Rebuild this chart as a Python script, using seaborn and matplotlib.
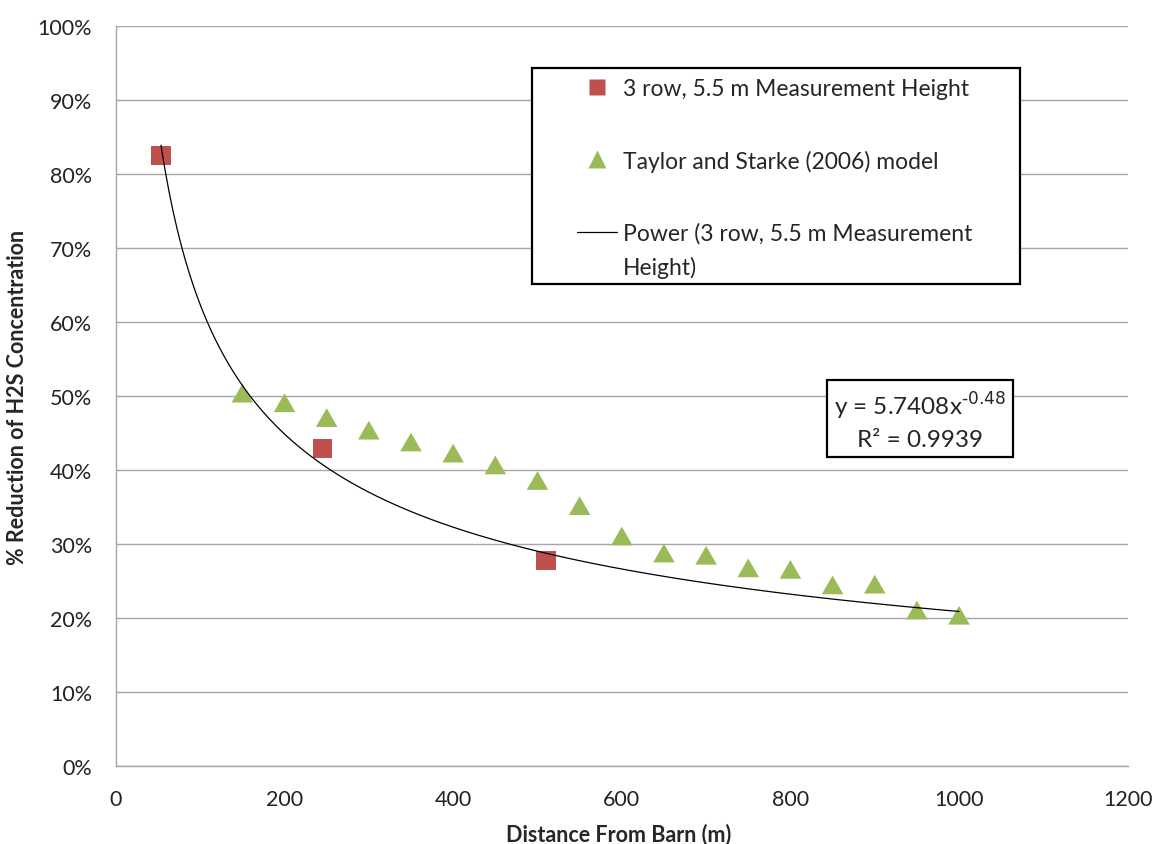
import numpy as np
import matplotlib
matplotlib.use("Agg")
import matplotlib.pyplot as plt
import seaborn as sns
from matplotlib.lines import Line2D
from matplotlib.patches import Rectangle
from matplotlib.legend_handler import HandlerLine2D
from matplotlib.ticker import PercentFormatter, MultipleLocator

# measured H2S reduction, 3 row shelterbelt, 5.5 m height
MEAS_DIST = [53.5, 245, 510]
MEAS_REDUCTION = [0.825, 0.429, 0.278]

# Taylor and Starke (2006) model
MODEL_DIST = [150, 200, 250, 300, 350, 400, 450, 500, 550, 600,
              650, 700, 750, 800, 850, 900, 950, 1000]
MODEL_REDUCTION = [0.504, 0.491, 0.471, 0.454, 0.438, 0.423, 0.407, 0.386, 0.352,
                   0.311, 0.288, 0.285, 0.268, 0.266, 0.245, 0.246, 0.211, 0.204]

MEAS_LABEL = "3 row, 5.5 m Measurement Height"
MODEL_LABEL = "Taylor and Starke (2006) model"
TREND_LABEL = "Power (3 row, 5.5 m Measurement\nHeight)"
EQ_TEXT = "y = 5.7408x$^{\\text{-0.48}}$\nR² = 0.9939"

RED = "#C0504D"
GREEN = "#9BBB59"
GRID = "#A6A6A6"


class RaisedLineHandler(HandlerLine2D):
    """Line handle lifted up to sit on the first line of a 2-line label."""

    def __init__(self, dy, **kw):
        super().__init__(**kw)
        self.dy = dy

    def create_artists(self, legend, orig_handle, xdescent, ydescent, width, height,
                       fontsize, trans):
        arts = super().create_artists(legend, orig_handle, xdescent, ydescent, width,
                                      height, fontsize, trans)
        for a in arts:
            a.set_ydata(np.asarray(a.get_ydata()) + self.dy)
        return arts


sns.set_style("white")
plt.rcParams["font.family"] = ["Lato", "DejaVu Sans"]

W, H = 1157, 845
fig = plt.figure(figsize=(W / 100, H / 100), dpi=100)
ax = fig.add_axes([115.9 / W, 1 - 767.3 / H, 1011.8 / W, 740.4 / H])

# Excel-style flat triangle
tri = [(-1.15, -1.0), (1.15, -1.0), (0.0, 1.0), (-1.15, -1.0)]

sns.scatterplot(x=MODEL_DIST, y=MODEL_REDUCTION, marker=tri, s=15.5 ** 2,
                color=GREEN, edgecolor="none", ax=ax, zorder=3)
sns.scatterplot(x=MEAS_DIST, y=MEAS_REDUCTION, marker="s", s=14 ** 2,
                color=RED, edgecolor="none", ax=ax, zorder=3)

# power trendline fitted on the measured points, forecast to the model range
slope, icpt = np.polyfit(np.log(MEAS_DIST), np.log(MEAS_REDUCTION), 1)
xs = np.linspace(min(MEAS_DIST), max(MODEL_DIST), 400)
sns.lineplot(x=xs, y=np.exp(icpt) * xs ** slope, color="black", lw=0.9,
             ax=ax, zorder=4)

ax.set_xlim(0, 1200)
ax.set_ylim(0, 1.0)
ax.xaxis.set_major_locator(MultipleLocator(200))
ax.yaxis.set_major_locator(MultipleLocator(0.1))
ax.yaxis.set_major_formatter(PercentFormatter(xmax=1.0, decimals=0))
ax.yaxis.grid(True, color=GRID, lw=1.0)
ax.set_axisbelow(True)
for s in ["top", "right"]:
    ax.spines[s].set_visible(False)
for s in ["left", "bottom"]:
    ax.spines[s].set_color(GRID)
    ax.spines[s].set_linewidth(1.0)
ax.tick_params(axis="both", length=0, labelsize=15.5, colors="#222222")
ax.tick_params(axis="y", pad=17)
ax.tick_params(axis="x", pad=16)

ax.set_xlabel("Distance From Barn (m)", fontsize=15.5, fontweight="bold")
ax.set_ylabel("% Reduction of H2S Concentration", fontsize=15.5, fontweight="bold")
ax.xaxis.label.set_va("center")
ax.yaxis.label.set_va("center")
ax.xaxis.set_label_coords(0.497, -0.0914)
ax.yaxis.set_label_coords(-0.0968, 0.50)

# legend box
frame = Rectangle((532 / W, 1 - 285 / H), 488 / W, 216 / H, transform=fig.transFigure,
                  facecolor="white", edgecolor="black", lw=1.6, zorder=4.5, clip_on=False)
ax.add_artist(frame)
handles = [
    Line2D([], [], ls="", marker="s", ms=12, color=RED, markeredgecolor="none"),
    Line2D([], [], ls="", marker="^", ms=13, color=GREEN, markeredgecolor="none"),
    Line2D([], [], color="black", lw=0.9),
]
leg = ax.legend(handles, [MEAS_LABEL, MODEL_LABEL, TREND_LABEL], frameon=False,
                loc="upper left", bbox_to_anchor=(576.7 / W, 1 - 79 / H),
                bbox_transform=fig.transFigure, borderaxespad=0, borderpad=0,
                fontsize=16.5, handlelength=1.75, handletextpad=0.25, labelspacing=2.2,
                handler_map={handles[2]: RaisedLineHandler(13)})
leg.get_texts()[2].set_linespacing(1.7)
leg.set_zorder(5)

ax.text(920 / W, 1 - 420.8 / H, EQ_TEXT, transform=fig.transFigure, ha="center",
        va="center", multialignment="center", fontsize=17.5, linespacing=1.45, zorder=6,
        bbox=dict(boxstyle="square,pad=0.3", facecolor="white", edgecolor="black", lw=1.6))

fig.savefig("out.png", dpi=100)
